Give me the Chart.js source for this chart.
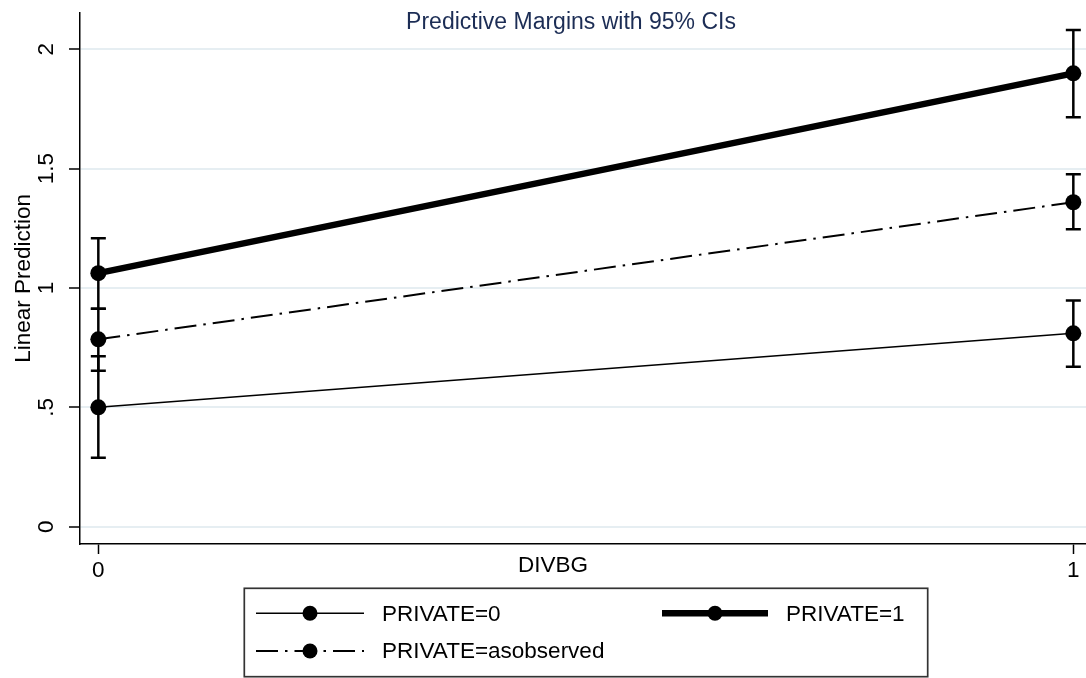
<!DOCTYPE html>
<html>
<head>
<meta charset="utf-8">
<title>Predictive Margins with 95% CIs</title>
<script src="https://cdn.jsdelivr.net/npm/chart.js@4.4.1/dist/chart.umd.min.js"></script>
<style>
  html, body { margin: 0; padding: 0; background: #fff; }
  #wrap { width: 1086px; height: 678px; }
</style>
</head>
<body>
<div id="wrap"><canvas id="margins" width="1086" height="678"></canvas></div>
<script>
// ===== values =====
const divbg = [0, 1];
const xTickLabels = ['0', '1'];
const yTicks = [0, 0.5, 1, 1.5, 2];
const yTickLabels = ['0', '.5', '1', '1.5', '2'];

const seriesNames = ['PRIVATE=0', 'PRIVATE=1', 'PRIVATE=asobserved'];
const private0 = [0.500, 0.810];
const private0Lo = [0.289, 0.670];
const private0Hi = [0.714, 0.947];
const private1 = [1.062, 1.899];
const private1Lo = [0.913, 1.715];
const private1Hi = [1.208, 2.081];
const privateObs = [0.785, 1.359];
const privateObsLo = [0.653, 1.246];
const privateObsHi = [0.913, 1.476];

const FONT = '"Liberation Sans", Arial, sans-serif';
const FS = 22.5;

// points for a series
const pts = ys => divbg.map((x, i) => ({ x, y: ys[i] }));
// CI whiskers: lo/hi pairs, broken by a null between x values
const ciPts = (lo, hi) => {
  const out = [];
  divbg.forEach((x, i) => {
    if (i > 0) out.push({ x: (divbg[i - 1] + x) / 2, y: null });
    out.push({ x, y: lo[i] }, { x, y: hi[i] });
  });
  return out;
};

const lineSet = (label, data, width, dash) => ({
  label, data: pts(data),
  borderColor: '#000', borderWidth: width, borderDash: dash || [],
  pointRadius: 8, pointBackgroundColor: '#000', pointBorderWidth: 0,
  order: 1
});
const ciSet = (lo, hi) => ({
  label: 'ci', data: ciPts(lo, hi),
  borderColor: '#000', borderWidth: 2.5,
  pointStyle: 'line', pointRadius: 7.5, pointBorderWidth: 2.5, pointBorderColor: '#000',
  order: 5
});

// titles, rotated y tick labels and the boxed legend
const decor = {
  id: 'decor',
  afterDraw(chart) {
    const { ctx, scales } = chart;
    ctx.save();
    ctx.fillStyle = '#000';
    ctx.font = FS + 'px ' + FONT;
    ctx.textAlign = 'center';
    ctx.textBaseline = 'alphabetic';

    scales.y.ticks.forEach((t, i) => {
      ctx.save();
      ctx.translate(53.3, scales.y.getPixelForValue(t.value));
      ctx.rotate(-Math.PI / 2);
      ctx.fillText(yTickLabels[i], 0, 0);
      ctx.restore();
    });

    ctx.save();
    ctx.translate(30, (chart.chartArea.top + chart.chartArea.bottom) / 2);
    ctx.rotate(-Math.PI / 2);
    ctx.fillText('Linear Prediction', 0, 0);
    ctx.restore();

    ctx.fillText('DIVBG', 553, 571.7);

    ctx.fillStyle = '#1c2d55';
    ctx.font = '23px ' + FONT;
    ctx.fillText('Predictive Margins with 95% CIs', 571, 29);

    // legend
    ctx.strokeStyle = '#333';
    ctx.lineWidth = 1.7;
    ctx.strokeRect(244.3, 588.3, 683.4, 88.4);
    const slots = [
      { x0: 256, x1: 364, y: 613.3 },
      { x0: 662, x1: 768, y: 613.3 },
      { x0: 256, x1: 364, y: 651 }
    ];
    ctx.font = FS + 'px ' + FONT;
    ctx.textAlign = 'left';
    ctx.textBaseline = 'middle';
    slots.forEach((s, i) => {
      const ds = chart.data.datasets[i];
      ctx.strokeStyle = ds.borderColor;
      ctx.lineWidth = ds.borderWidth;
      ctx.setLineDash(ds.borderDash);
      ctx.beginPath();
      ctx.moveTo(s.x0, s.y);
      ctx.lineTo(s.x1, s.y);
      ctx.stroke();
      ctx.setLineDash([]);
      ctx.fillStyle = ds.pointBackgroundColor;
      ctx.beginPath();
      ctx.arc((s.x0 + s.x1) / 2, s.y, 7.5, 0, Math.PI * 2);
      ctx.fill();
      ctx.fillStyle = '#000';
      ctx.fillText(ds.label, s.x1 + 18, s.y + 1);
    });
    ctx.restore();
  }
};

new Chart(document.getElementById('margins'), {
  type: 'line',
  data: {
    datasets: [
      lineSet(seriesNames[0], private0, 1.5),
      lineSet(seriesNames[1], private1, 6.5),
      lineSet(seriesNames[2], privateObs, 2, [22, 7, 2.5, 7]),
      ciSet(private0Lo, private0Hi),
      ciSet(private1Lo, private1Hi),
      ciSet(privateObsLo, privateObsHi)
    ]
  },
  options: {
    responsive: false,
    animation: false,
    events: [],
    layout: { autoPadding: false, padding: { top: 12.7, left: 0, right: 0, bottom: 0 } },
    plugins: { legend: { display: false }, tooltip: { enabled: false } },
    scales: {
      x: {
        type: 'linear', min: -0.0188, max: 1.013,
        afterBuildTicks: s => { s.ticks = divbg.map(v => ({ value: v })); },
        afterFit: s => { s.height = 134; s.paddingLeft = 0; s.paddingRight = 0; },
        border: { color: '#000', width: 1.5 },
        grid: { drawOnChartArea: false, tickLength: 10, tickColor: '#000', tickWidth: 1.5 },
        ticks: {
          color: '#000', padding: 3, maxRotation: 0,
          font: { family: FONT, size: FS },
          callback: (v, i) => xTickLabels[i]
        }
      },
      y: {
        type: 'linear', min: -0.0725, max: 2.153,
        afterBuildTicks: s => { s.ticks = yTicks.map(v => ({ value: v })); },
        afterFit: s => { s.width = 80; s.paddingTop = 0; s.paddingBottom = 0; },
        border: { color: '#000', width: 1.5 },
        grid: { color: '#e6eef2', lineWidth: 2, tickLength: 11, tickColor: '#000', tickWidth: 1.5 },
        ticks: { display: false }
      }
    }
  },
  plugins: [decor]
});
</script>
</body>
</html>
